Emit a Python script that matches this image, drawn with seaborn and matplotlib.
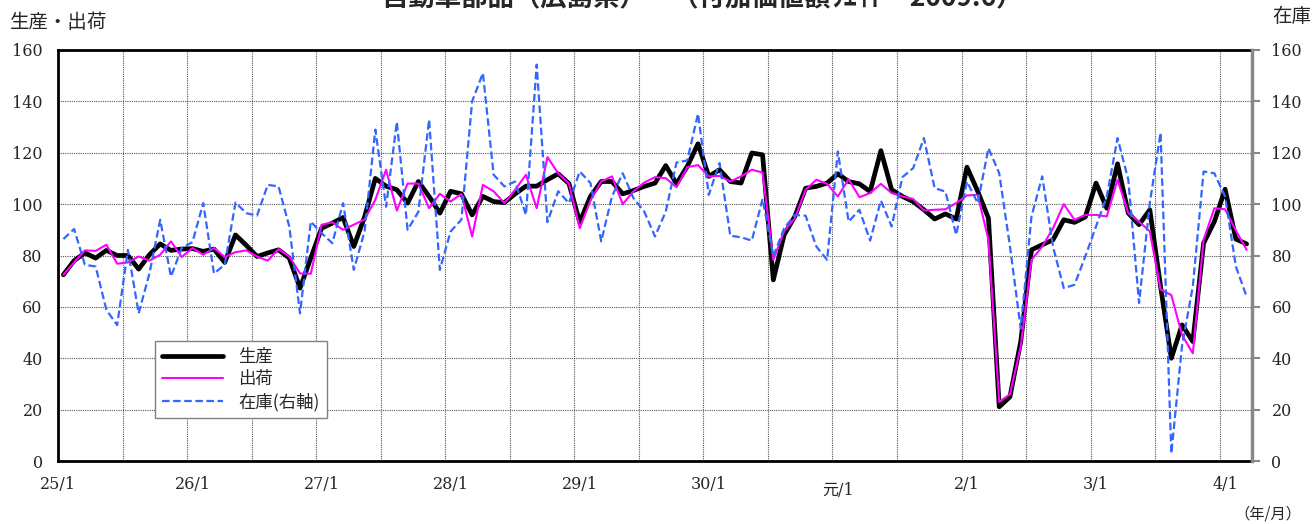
import numpy as np
import pandas as pd
import matplotlib
matplotlib.use("Agg")
import matplotlib.pyplot as plt
import seaborn as sns
from matplotlib.transforms import ScaledTranslation

# ---------------- data (monthly, H25/1 .. R4/3) ----------------
production = [
    72.5, 78, 81, 79, 82, 80, 80, 74.7, 80.3, 84.5, 82, 82.5,
    82.7, 81.6, 82.5, 77.3, 88, 84, 79.6, 81, 82.2, 79, 67.3, 79,
    90.6, 92.6, 94.8, 83.5, 95, 110, 107, 105.6, 100.4, 108.8, 103, 96.5,
    105, 104, 95.8, 103, 101, 100.6, 104, 107, 107, 109.5, 111.8, 108,
    93, 103, 108.8, 108.8, 104, 105.3, 106.9, 108.2, 115, 107.9, 114.7, 123.5,
    110.8, 113.4, 108.8, 108.2, 119.9, 119.2, 70.5, 88, 95.2, 106.2, 106.9, 108.2,
    111.8, 108.8, 107.9, 104.9, 120.8, 105.6, 103, 101, 97.8, 94.2, 96.2, 94.2,
    114.4, 105, 94.5, 21.1, 25, 46.5, 82.2, 84.2, 86.1, 93.9, 92.9, 95,
    108.2, 98.4, 115.7, 96.5, 92, 97.8, 68, 40, 53, 46.5, 84.8, 93.2,
    105.8, 86.4, 84.5,
]
shipments = [
    72.5, 77.3, 82, 81.8, 84.2, 76.8, 77.3, 79.6, 78, 80.3, 85.5, 79.4,
    82.9, 80.3, 82.9, 79.4, 81.3, 82, 79.6, 78, 82.5, 79.6, 73, 72.9,
    92, 92.9, 90, 92, 94, 101.7, 113.4, 97.5, 108, 108, 98.4, 104,
    101, 104, 87.4, 107.5, 105, 100.4, 105.6, 111.4, 98.4, 118.3, 112, 108,
    90.6, 101.4, 108.8, 110.8, 100, 105, 108.4, 110.5, 110.1, 106.6, 114.4, 115.2,
    110.8, 111, 108.8, 110.8, 113.4, 112.3, 78.3, 89.4, 94.5, 105.6, 109.5, 107.9,
    103, 109.7, 102.7, 104.3, 107.9, 104.3, 103, 102, 97.5, 97.8, 98, 100.4,
    103.4, 103.6, 86.1, 23, 26, 44.5, 78.3, 83.5, 90.6, 100, 93.9, 95.8,
    95.8, 95.2, 109.5, 96.5, 93.2, 89.4, 66.8, 64.6, 49, 41.9, 86.1, 98.4,
    98, 89.7, 82.2,
]
inventory = [
    86.4, 90.3, 76.4, 75.7, 58.8, 52.9, 82.2, 57.5, 73, 93.9, 71.8, 82.9,
    85.2, 100.4, 73, 76.4, 100.6, 96.5, 95.5, 107.5, 106.9, 91.3, 57.5, 93.2,
    88.7, 84.8, 100.4, 74.4, 89.4, 129, 99, 132, 90, 97, 132.9, 74.4,
    89.4, 93.9, 140, 151, 111.4, 106.9, 108.8, 95.8, 154.3, 93, 105, 100.4,
    112.7, 108.2, 85.5, 103, 112, 102.3, 97.1, 87.4, 97.1, 116.2, 117, 135.2,
    103.6, 116, 87.7, 87.1, 85.8, 102, 79.6, 90.6, 95.8, 95.5, 83.5, 78.3,
    120.5, 93.2, 97.8, 85.8, 101.4, 91.3, 110.5, 114, 125.7, 106.2, 104.9, 88,
    108.8, 100.4, 121.8, 112, 83.5, 51.6, 95.2, 110.8, 83.5, 67.3, 68.6, 79.6,
    91.3, 103, 125.7, 109.5, 61.5, 100.4, 127.8, 2.9, 45, 68, 112.7, 112,
    103, 75.7, 64,
]
year_labels = ["25/1", "26/1", "27/1", "28/1", "29/1", "30/1", "元/1", "2/1", "3/1", "4/1"]
series_names = ["生産", "出荷", "在庫(右軸)"]
title_text = "自動車部品（広島県）　（付加価値額ｳｴｲﾄ＝2009.6）"

# ---------------- styling ----------------
sns.set_style("white")
CJK = ["Noto Sans CJK JP", "DejaVu Sans"]
NUM = ["DejaVu Serif", "Noto Sans CJK JP"]
plt.rcParams["font.family"] = NUM

W, H = 1313, 524
fig = plt.figure(figsize=(W / 100, H / 100), dpi=100)
ax = fig.add_axes([58 / W, 63 / H, 1194 / W, 411 / H])

df = pd.DataFrame({
    "month": np.arange(len(production)),
    "production": production,
    "shipments": shipments,
    "inventory": inventory,
})

sns.lineplot(data=df, x="month", y="production", ax=ax, color="black",
             linewidth=3.4, label=series_names[0])
sns.lineplot(data=df, x="month", y="shipments", ax=ax, color="#ff00ff",
             linewidth=1.5, label=series_names[1])
ax2 = ax.twinx()
sns.lineplot(data=df, x="month", y="inventory", ax=ax2, color="#3366ff",
             linewidth=1.6, linestyle=(0, (3.4, 1.6)), label=series_names[2])

for a in (ax, ax2):
    if a.get_legend() is not None:
        a.get_legend().remove()
    a.set_xlabel("")
    a.set_ylabel("")
    a.set_ylim(0, 160)
    a.set_yticks(range(0, 161, 20))
ax.set_xlim(-0.5, len(production) - 0.5)

# grid
grid_kw = dict(color="#555555", linestyle=(0, (1, 1)), linewidth=0.8)
ax.yaxis.grid(True, **grid_kw)
ax.set_xticks(np.arange(5.5, len(production) - 1, 6), minor=True)
ax.xaxis.grid(True, which="minor", **grid_kw)
ax.xaxis.grid(False, which="major")
ax.set_axisbelow(True)

# x ticks
ax.set_xticks(np.arange(0, 12 * len(year_labels), 12))
ax.set_xticklabels(year_labels, fontsize=11.5, family=NUM)
ax.tick_params(axis="x", which="both", length=0, pad=11)
ax.tick_params(axis="y", length=0, pad=11, labelsize=11.5)
ax2.tick_params(axis="y", length=6, width=1.5, color="#888888", pad=8,
                direction="out", labelsize=11.5)
for lab in ax.get_yticklabels() + ax2.get_yticklabels():
    lab.set_family(NUM)

for lab in ax.get_xticklabels():
    if lab.get_text() == "元/1":
        lab.set_transform(lab.get_transform() + ScaledTranslation(0, -4 / 72, fig.dpi_scale_trans))
    if lab.get_text() == "25/1":
        lab.set_transform(lab.get_transform() + ScaledTranslation(-4 / 72, 0, fig.dpi_scale_trans))

# spines
for s in ("left", "top", "bottom"):
    ax.spines[s].set_color("black")
    ax.spines[s].set_linewidth(2)
    ax2.spines[s].set_visible(False)
ax.spines["right"].set_visible(False)
ax2.spines["right"].set_color("#888888")
ax2.spines["right"].set_linewidth(2.5)

# legend
h1, l1 = ax.get_legend_handles_labels()
h2, l2 = ax2.get_legend_handles_labels()
leg = ax2.legend(h1 + h2, l1 + l2, loc="lower left",
                 bbox_to_anchor=(0.0812, 0.1046), borderaxespad=0,
                 prop={"family": CJK, "size": 12.5}, frameon=True, fancybox=False,
                 edgecolor="#808080", framealpha=1, handlelength=3.5,
                 labelspacing=0.25, borderpad=0.4, handletextpad=0.9)
leg.get_frame().set_linewidth(1)

# texts
fig.text(10 / W, 1 - 22 / H, "生産・出荷", family=CJK, fontsize=14, va="center", ha="left")
fig.text(1272 / W, 1 - 17 / H, "在庫", family=CJK, fontsize=14, va="center", ha="left")
fig.text(1301 / W, 1 - 514 / H, "（年/月）", family=CJK, fontsize=11, va="center", ha="right")
fig.text(702 / W, 1 + 1 / H, title_text, family=CJK, fontsize=19, weight="bold",
         va="center", ha="center")

fig.savefig("out.png", dpi=100)
